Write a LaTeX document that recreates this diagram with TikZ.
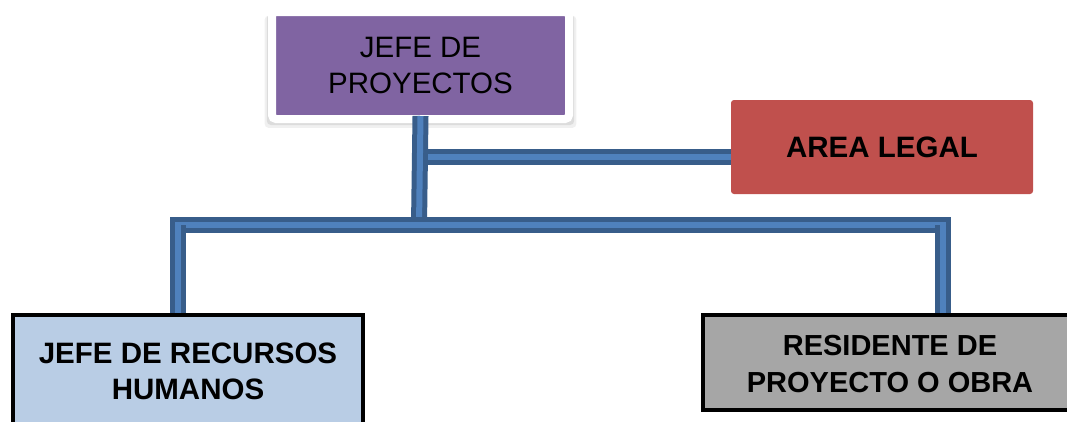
\documentclass[tikz,border=0pt]{standalone}
\usepackage{fontspec}
\setmainfont{Liberation Sans}
\usepackage{xcolor}
\usetikzlibrary{positioning, shadows}

\definecolor{bosspurple}{HTML}{8064A2}
\definecolor{legalred}{HTML}{C0504D}
\definecolor{hrblue}{HTML}{B9CDE5}
\definecolor{obragray}{HTML}{A6A6A6}
\definecolor{pipeedge}{HTML}{385D8A}
\definecolor{pipefill}{HTML}{4F81BD}

\begin{document}
\begin{tikzpicture}[x=1pt, y=-1pt,
    txt/.style={font=\fontsize{29.5}{36}\selectfont, align=center},
    boldtxt/.style={font=\fontsize{29.5}{36}\selectfont\bfseries, align=center},
    pipe/.style={draw=pipeedge, line width=5pt, double=pipefill, double distance=6pt}]
  \useasboundingbox (0,0) rectangle (1067,421);
  \clip (0,0) rectangle (1067,421);

  % Boxes
  \node[txt, fill=bosspurple, draw=white, line width=8pt, rounded corners=4pt, inner sep=0pt,
        minimum width=297pt, minimum height=107pt,
        drop shadow={shadow xshift=0pt, shadow yshift=-6pt, shadow scale=1.05, opacity=0.12},
        drop shadow={shadow xshift=0pt, shadow yshift=-4pt, shadow scale=1.035, opacity=0.18}] (boss) at (420.5,65.5) {JEFE DE\\PROYECTOS};
  \node[boldtxt, fill=legalred, rounded corners=3pt, inner sep=0pt,
        minimum width=302pt, minimum height=94pt] (legal) at (882,147) {AREA LEGAL};
  \node[boldtxt, fill=hrblue, draw=black, line width=4pt, inner sep=0pt,
        minimum width=350pt, minimum height=113pt] (hr) at (188,371.5) {JEFE DE RECURSOS\\HUMANOS};
  \node[fill=obragray, draw=black, line width=4pt, inner sep=0pt,
        minimum width=382pt, minimum height=95pt,
        label={[boldtxt, font=\fontsize{29}{37}\selectfont\bfseries, xshift=-4pt, yshift=-2pt]center:RESIDENTE DE\\PROYECTO O OBRA}] (obra) at (894,362.5) {};

  % Connectors
  \coordinate (legaljoin) at (419,157);
  \coordinate (bar) at (419,225);
  \coordinate (barL) at (177.5,225);
  \coordinate (barR) at (943,225);
  \draw[pipe] (legaljoin) -- (legaljoin -| legal.west);
  \draw[pipe] ([yshift=7pt]boss.south) -- (bar);
  \draw[pipe, line cap=rect] (barL) -- (barR);
  \draw[pipe] (barL) -- (barL |- hr.north);
  \draw[pipe] (barR) -- (barR |- obra.north);
\end{tikzpicture}
\end{document}
